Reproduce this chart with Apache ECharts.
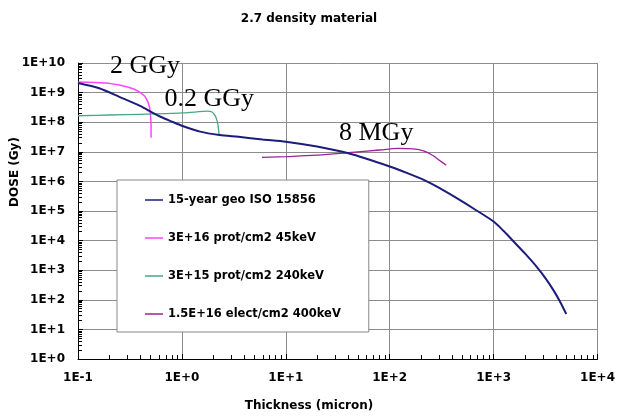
<!DOCTYPE html>
<html><head><meta charset="utf-8">
<script src="https://cdn.jsdelivr.net/npm/echarts@6/dist/echarts.min.js"></script>
<style>html,body{margin:0;padding:0;background:#fff}#c{width:618px;height:418px}</style>
</head><body><div id="c"></div>
<script>
const titleText = '2.7 density material';
const xAxisName = 'Thickness (micron)';
const yAxisName = 'DOSE (Gy)';
const seriesNames = ['15-year geo ISO 15856', '3E+16 prot/cm2 45keV', '3E+15 prot/cm2 240keV', '1.5E+16 elect/cm2 400keV'];

const isoX = [0.1, 0.16, 0.25, 0.4, 0.52, 0.63, 0.8, 1.0, 1.5, 2.3, 3.5, 6, 10, 20, 40, 100, 150, 215, 300, 450, 650, 1000, 1250, 1550, 2000, 2600, 3200, 3800, 4400, 5000];
const isoY = [2.1e9, 1.4e9, 7.2e8, 3.5e8, 2.1e8, 1.5e8, 1.05e8, 7.6e7, 4.8e7, 3.7e7, 3.2e7, 2.6e7, 2.2e7, 1.5e7, 8.9e6, 3.2e6, 1.86e6, 1.1e6, 6e5, 2.6e5, 1.17e5, 4.4e4, 2.1e4, 9.5e3, 3.7e3, 1.3e3, 500, 200, 81, 33];

const protAX = [0.1, 0.15, 0.2, 0.25, 0.3, 0.35, 0.4, 0.44, 0.47, 0.49, 0.5, 0.505, 0.505];
const protAY = [2.3e9, 2.2e9, 2.05e9, 1.8e9, 1.55e9, 1.3e9, 1.0e9, 7.5e8, 5e8, 3e8, 1.6e8, 8e7, 3e7];

const protBX = [0.1, 0.2, 0.4, 0.7, 1.0, 1.4, 1.75, 1.95, 2.1, 2.2, 2.25, 2.28];
const protBY = [1.65e8, 1.75e8, 1.85e8, 1.95e8, 2.05e8, 2.25e8, 2.35e8, 2.2e8, 1.6e8, 1e8, 6e7, 3.8e7];

const electX = [5.9, 10, 20, 40, 80, 120, 170, 215, 260, 300, 350];
const electY = [6.5e6, 6.9e6, 7.7e6, 9.3e6, 1.15e7, 1.3e7, 1.25e7, 1.05e7, 7.5e6, 5.2e6, 3.5e6];

const annotTexts = ['2 GGy', '0.2 GGy', '8 MGy'];
const annotX = [0.203, 0.68, 32.5];
const annotY = [7.9e9, 6e8, 4.3e7];

const colors = ['#1c1c7c', '#ff44ff', '#44aa80', '#a0209a'];
const pairs = (xs, ys) => xs.map((x, i) => [x, ys[i]]);
const expFmt = v => { const e = Math.round(Math.log10(v)); return '1E' + (e < 0 ? '-' : '+') + Math.abs(e); };
const boldFont = { fontFamily: 'DejaVu Sans', fontWeight: 'bold', color: '#000' };

const chart = echarts.init(document.getElementById('c'), null, { renderer: 'canvas' });
chart.setOption({
  animation: false,
  backgroundColor: '#fff',
  title: { text: titleText, left: 'center', top: 8, textStyle: Object.assign({ fontSize: 12 }, boldFont) },
  grid: { left: 78, right: 17, top: 63, bottom: 59, containLabel: false },
  xAxis: {
    type: 'log', logBase: 10, min: 0.1, max: 10000, interval: 1,
    axisLine: { lineStyle: { color: '#000', width: 1 } },
    axisTick: { show: true, inside: true, length: 5, lineStyle: { color: '#000' } },
    minorTick: { show: true, splitNumber: 9, length: 4, lineStyle: { color: '#000' } },
    splitLine: { show: true, lineStyle: { color: '#8c8c8c', width: 1 } },
    axisLabel: Object.assign({ formatter: expFmt, fontSize: 12, margin: 13, showMaxLabel: true, showMinLabel: true }, boldFont)
  },
  yAxis: {
    type: 'log', logBase: 10, min: 1, max: 1e10, interval: 1,
    axisLine: { show: true, lineStyle: { color: '#000', width: 1 } },
    axisTick: { show: true, inside: true, length: 5, lineStyle: { color: '#000' } },
    minorTick: { show: true, splitNumber: 9, length: 4, lineStyle: { color: '#000' } },
    splitLine: { show: true, lineStyle: { color: '#8c8c8c', width: 1 } },
    axisLabel: Object.assign({ formatter: expFmt, fontSize: 12, margin: 13 }, boldFont)
  },
  legend: {
    orient: 'vertical', left: 117, top: 180,
    padding: [14, 28, 12, 28], itemGap: 26, itemWidth: 18, itemHeight: 1.5, icon: 'rect',
    backgroundColor: '#fff', borderColor: '#888', borderWidth: 1,
    textStyle: Object.assign({ fontSize: 11.5 }, boldFont),
    data: seriesNames
  },
  graphic: [
    { type: 'text', left: 'center', top: 400, style: Object.assign({ text: xAxisName, font: 'bold 12px "DejaVu Sans"', fill: '#000' }) },
    { type: 'text', x: 15, y: 172, rotation: Math.PI / 2, style: { text: yAxisName, font: 'bold 12px "DejaVu Sans"', fill: '#000', align: 'center', verticalAlign: 'middle' } }
  ],
  series: [
    { name: seriesNames[1], type: 'line', data: pairs(protAX, protAY), showSymbol: false, smooth: false, color: colors[1], lineStyle: { width: 1.5, color: colors[1] }, z: 2 },
    { name: seriesNames[2], type: 'line', data: pairs(protBX, protBY), showSymbol: false, smooth: 0.3, color: colors[2], lineStyle: { width: 1.3, color: colors[2] }, z: 2 },
    { name: seriesNames[3], type: 'line', data: pairs(electX, electY), showSymbol: false, smooth: 0.4, color: colors[3], lineStyle: { width: 1.3, color: colors[3] }, z: 2 },
    { name: seriesNames[0], type: 'line', data: pairs(isoX, isoY), showSymbol: false, smooth: 0.25, color: colors[0], lineStyle: { width: 2, color: colors[0] }, z: 3,
      markPoint: {
        symbol: 'circle', symbolSize: 0, silent: true,
        label: { show: true, position: 'right', distance: 0, formatter: p => p.name, fontFamily: 'Liberation Serif', fontSize: 26, color: '#000' },
        data: annotTexts.map((t, i) => ({ name: t, coord: [annotX[i], annotY[i]] }))
      }
    }
  ]
});
</script>
</body></html>
